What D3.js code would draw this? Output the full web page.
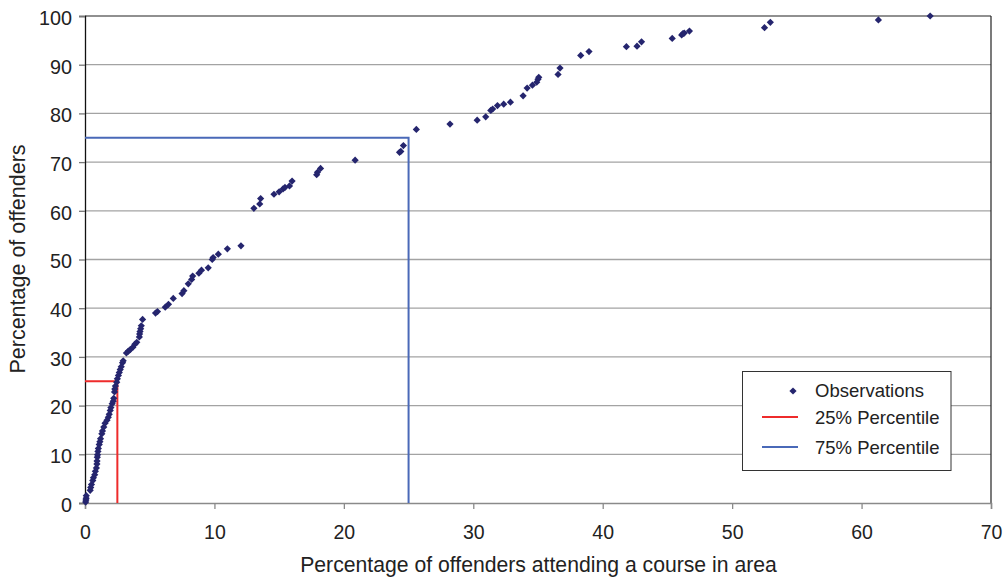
<!DOCTYPE html>
<html>
<head>
<meta charset="utf-8">
<script src="https://cdn.jsdelivr.net/npm/d3@7/dist/d3.min.js"></script>
<style>
  html, body { margin: 0; padding: 0; background: #fff; }
  svg { display: block; font-family: "Liberation Sans", Arial, Helvetica, sans-serif; }
</style>
</head>
<body>
<svg id="chart" width="1003" height="578"></svg>
<script>
// ---- Data ----
const obsX = [0.05,0.07,0.09,0.1,0.4,0.44,0.5,0.6,0.65,0.75,0.8,0.88,0.92,0.93,0.95,0.97,1.0,1.03,1.1,1.15,1.2,1.3,1.35,1.45,1.55,1.7,1.8,1.87,1.95,2.0,2.1,2.18,2.22,2.28,2.3,2.35,2.45,2.5,2.58,2.65,2.72,2.8,2.9,2.95,3.2,3.35,3.5,3.7,3.85,4.0,4.2,4.22,4.25,4.3,4.35,4.45,5.45,5.6,6.2,6.45,6.82,7.5,7.64,7.98,8.24,8.32,8.8,9.0,9.52,9.83,9.9,10.3,11.0,12.05,13.05,13.5,13.57,14.6,15.0,15.3,15.45,15.8,16.0,17.9,17.96,18.2,20.87,24.3,24.4,24.6,25.6,28.2,30.3,30.96,31.35,31.5,31.87,32.35,32.87,33.85,34.16,34.57,34.9,35.0,35.06,36.55,36.7,38.3,38.94,41.83,42.65,43.0,45.37,46.1,46.2,46.3,46.7,52.5,52.95,61.3,65.3];
const obsY = [0.2,0.6,1.0,1.5,2.6,3.2,3.8,4.6,5.2,5.8,6.5,7.2,8.0,8.6,9.4,9.9,10.6,11.2,12.0,12.6,13.2,14.2,14.8,15.6,16.4,17.0,17.6,18.2,19.0,19.6,20.4,20.9,21.5,22.8,23.4,24.0,24.8,25.5,26.2,26.8,27.4,28.0,28.8,29.2,30.8,31.2,31.5,32.0,32.6,33.0,34.1,34.7,35.2,35.8,36.4,37.7,39.0,39.3,40.2,40.8,42.0,43.0,43.6,45.0,45.9,46.6,47.2,47.8,48.3,50.0,50.4,51.1,52.2,52.8,60.5,61.4,62.5,63.4,63.9,64.5,64.8,65.1,66.1,67.4,67.9,68.7,70.4,72.0,72.2,73.4,76.7,77.8,78.6,79.3,80.6,80.9,81.6,81.9,82.3,83.6,85.2,85.8,86.4,87.0,87.4,88.0,89.3,91.9,92.7,93.7,93.8,94.7,95.4,96.1,96.4,96.5,96.9,97.6,98.7,99.2,100.0];
const percentileNames = ["25% Percentile", "75% Percentile"];
const percentileX = [2.5, 25];
const percentileY = [25, 75];
const xTicks = [0,10,20,30,40,50,60,70];
const yTicks = [0,10,20,30,40,50,60,70,80,90,100];
const legendLabels = ["Observations", "25% Percentile", "75% Percentile"];
const xTitle = "Percentage of offenders attending a course in area";
const yTitle = "Percentage of offenders";

// ---- Layout ----
const L = 85, R = 991, T = 16, B = 503;
const ptColor = "#25256e", redColor = "#ee2b2b", blueColor = "#4a69b8";
const lineColors = [redColor, blueColor];

const svg = d3.select("#chart");
const x = d3.scaleLinear().domain([0,70]).range([L,R]);
const y = d3.scaleLinear().domain([0,100]).range([B,T]);

// gridlines
svg.append("g").selectAll("line")
  .data(yTicks.filter(d => d > 0 && d < 100))
  .join("line")
  .attr("x1", L).attr("x2", R)
  .attr("y1", d => y(d)).attr("y2", d => y(d))
  .attr("stroke", "#a3a3a3").attr("stroke-width", 1.3);

// top & right border
svg.append("line").attr("x1", L).attr("x2", R).attr("y1", y(100)).attr("y2", y(100))
  .attr("stroke", "#222").attr("stroke-width", 1.2);
svg.append("line").attr("x1", R).attr("x2", R).attr("y1", y(100)).attr("y2", y(0))
  .attr("stroke", "#222").attr("stroke-width", 1.2);

// x axis
const gx = svg.append("g").attr("transform", `translate(0,${B})`)
  .call(d3.axisBottom(x).tickValues(xTicks).tickSize(6).tickPadding(16).tickFormat(d3.format("d")));
gx.select(".domain").attr("stroke", "#8a8a8a").attr("stroke-width", 1.5);
gx.selectAll(".tick line").attr("stroke", "#8a8a8a").attr("stroke-width", 1.3);
gx.selectAll("text").attr("font-size", 19.5).attr("fill", "#222").attr("font-family", null);

// y axis
const gy = svg.append("g").attr("transform", `translate(${L},0)`)
  .call(d3.axisLeft(y).tickValues(yTicks).tickSize(6).tickPadding(7).tickFormat(d3.format("d")));
gy.select(".domain").attr("stroke", "#111").attr("stroke-width", 1.3);
gy.selectAll(".tick line").attr("stroke", "#777").attr("stroke-width", 1.3);
gy.selectAll("text").attr("font-size", 19.8).attr("fill", "#222").attr("dy", "0.42em").attr("font-family", null);

// percentile lines
percentileX.forEach((px, i) => {
  const pts = [[0, percentileY[i]], [px, percentileY[i]], [px, 0]];
  svg.append("path")
    .attr("d", d3.line().x(d => x(d[0])).y(d => y(d[1]))(pts))
    .attr("fill", "none").attr("stroke", lineColors[i]).attr("stroke-width", 2);
});

// observations
const sym = d3.symbol(d3.symbolSquare, 26);
svg.append("g").selectAll("path")
  .data(obsX.map((v, i) => [v, obsY[i]]))
  .join("path")
  .attr("d", sym)
  .attr("transform", d => `translate(${x(d[0])},${y(d[1])}) rotate(45)`)
  .attr("fill", ptColor);

// axis titles
svg.append("text").attr("x", 538.5).attr("y", 572)
  .attr("text-anchor", "middle").attr("font-size", 21.2).attr("fill", "#222").text(xTitle);
svg.append("text").attr("transform", `translate(25,259) rotate(-90)`)
  .attr("text-anchor", "middle").attr("font-size", 21.5).attr("fill", "#222").text(yTitle);

// legend
const lg = svg.append("g");
lg.append("rect").attr("x", 742.5).attr("y", 371.5).attr("width", 208.5).attr("height", 99)
  .attr("fill", "#fff").attr("stroke", "#333").attr("stroke-width", 1);
const rowY = [390, 417, 447];
lg.append("path").attr("d", sym).attr("transform", `translate(793,${rowY[0] + 1}) rotate(45)`).attr("fill", ptColor);
lg.append("line").attr("x1", 762).attr("x2", 798).attr("y1", rowY[1]).attr("y2", rowY[1])
  .attr("stroke", redColor).attr("stroke-width", 2);
lg.append("line").attr("x1", 762).attr("x2", 798).attr("y1", rowY[2]).attr("y2", rowY[2])
  .attr("stroke", blueColor).attr("stroke-width", 2);
legendLabels.forEach((t, i) => {
  lg.append("text").attr("x", 815).attr("y", rowY[i]).attr("dy", "0.36em")
    .attr("font-size", 18.5).attr("fill", "#222").text(t);
});
</script>
</body>
</html>
